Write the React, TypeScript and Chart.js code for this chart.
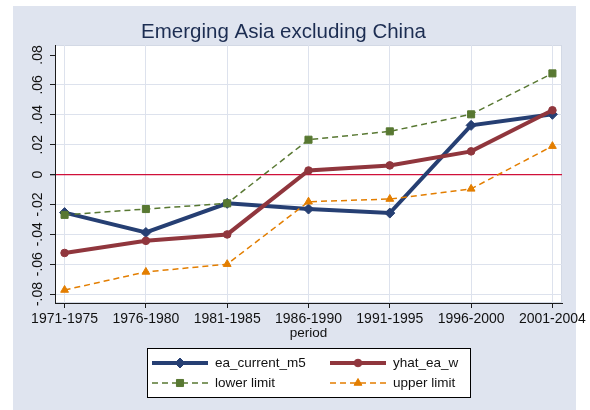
import React, { useEffect, useRef } from "react";
import { Chart, registerables } from "chart.js";
import { drawPoint } from "chart.js/helpers";

Chart.register(...registerables);

const chartTitle = "Emerging Asia excluding China";
const xAxisTitle = "period";
const periods = ["1971-1975", "1976-1980", "1981-1985", "1986-1990", "1991-1995", "1996-2000", "2001-2004"];
const eaCurrent = [-0.0255, -0.0388, -0.0193, -0.0231, -0.0258, 0.0329, 0.0403];
const yhatEa = [-0.0525, -0.0444, -0.0401, 0.0027, 0.0061, 0.0155, 0.043];
const lowerLimit = [-0.027, -0.0231, -0.0193, 0.0233, 0.0289, 0.0403, 0.0677];
const upperLimit = [-0.0773, -0.0652, -0.06, -0.0182, -0.0164, -0.0096, 0.019];
const seriesLabels = ["ea_current_m5", "yhat_ea_w", "lower limit", "upper limit"];
const yTicks = [-0.08, -0.06, -0.04, -0.02, 0, 0.02, 0.04, 0.06, 0.08];

const FONT = "'Liberation Sans', Arial, Helvetica, sans-serif";
const GRAPH_BG = "#dfe4ef";
const GRID = "#dde2ed";
const AXIS = "#1c1c1c";
const TEXT = "#111111";
const NAVY = "#263f73";
const MAROON = "#90363d";
const GREEN = "#587832";
const ORANGE = "#e37e00";
const ZERO = "#d0103a";

const fmtY = (v: number) => {
  if (Math.abs(v) < 1e-9) return "0";
  return v.toFixed(2).replace(/^(-?)0\./, "$1.");
};

const toPoints = (arr: number[]) => arr.map((y, i) => ({ x: i, y }));

const decorPlugin = {
  id: "decor",
  beforeDraw(chart: any) {
    const { ctx, chartArea: a } = chart;
    ctx.save();
    ctx.fillStyle = "#ffffff";
    ctx.fillRect(0, 0, chart.width, chart.height);
    ctx.fillStyle = GRAPH_BG;
    ctx.fillRect(13, 6, 563, 404);
    ctx.fillStyle = "#ffffff";
    ctx.fillRect(a.left, a.top, a.right - a.left, a.bottom - a.top);
    ctx.strokeStyle = "#d3d9e5";
    ctx.lineWidth = 1;
    ctx.strokeRect(a.left + 0.5, a.top + 0.5, a.right - a.left - 1, a.bottom - a.top - 1);
    ctx.restore();
  },
  afterDraw(chart: any) {
    const { ctx } = chart;
    ctx.save();
    // title
    ctx.fillStyle = "#1c2d52";
    ctx.font = `20.5px ${FONT}`;
    ctx.textAlign = "center";
    ctx.textBaseline = "alphabetic";
    ctx.fillText(chartTitle, 283.5, 38);

    // legend
    const bx = 147, by = 348, bw = 323, bh = 49;
    ctx.fillStyle = "#ffffff";
    ctx.fillRect(bx, by, bw, bh);
    ctx.strokeStyle = "#000000";
    ctx.lineWidth = 1;
    ctx.strokeRect(bx + 0.5, by + 0.5, bw, bh);
    chart.data.datasets.forEach((ds: any, i: number) => {
      const col = i % 2;
      const row = Math.floor(i / 2);
      const x0 = 152 + col * 178;
      const x1 = x0 + 56;
      const y = 363 + row * 20;
      ctx.save();
      ctx.strokeStyle = ds.borderColor;
      ctx.lineWidth = ds.borderWidth;
      ctx.setLineDash(ds.borderDash || []);
      ctx.beginPath();
      ctx.moveTo(x0, y);
      ctx.lineTo(x1, y);
      ctx.stroke();
      ctx.setLineDash([]);
      ctx.fillStyle = ds.pointBackgroundColor;
      ctx.strokeStyle = ds.pointBorderColor;
      ctx.lineWidth = ds.pointBorderWidth;
      drawPoint(ctx, { pointStyle: ds.pointStyle, radius: ds.pointRadius, rotation: 0, borderWidth: ds.pointBorderWidth } as any, (x0 + x1) / 2, y);
      ctx.restore();
      ctx.fillStyle = TEXT;
      ctx.font = `13.5px ${FONT}`;
      ctx.textAlign = "left";
      ctx.textBaseline = "middle";
      ctx.fillText(ds.label, x1 + 7, y);
    });
    ctx.restore();
  },
};

export default function App() {
  const ref = useRef<HTMLCanvasElement | null>(null);

  useEffect(() => {
    if (!ref.current) return;
    Chart.defaults.font.family = FONT;
    const mk = (label: string, data: number[], color: string, width: number, dash: number[], style: string, r: number) => ({
      label,
      data: toPoints(data),
      borderColor: color,
      backgroundColor: color,
      borderWidth: width,
      borderDash: dash,
      pointStyle: style,
      pointRadius: r,
      pointBackgroundColor: color,
      pointBorderColor: color,
      pointBorderWidth: 1,
      pointHoverRadius: r,
      tension: 0,
      fill: false,
      clip: false as any,
    });
    const chart = new Chart(ref.current, {
      type: "line",
      data: {
        datasets: [
          { ...mk(seriesLabels[0], eaCurrent, NAVY, 4, [], "rectRot", 5), order: 4 },
          { ...mk(seriesLabels[1], yhatEa, MAROON, 4, [], "circle", 3.8), order: 3 },
          { ...mk(seriesLabels[2], lowerLimit, GREEN, 1.5, [6, 4], "rect", 5), order: 2 },
          { ...mk(seriesLabels[3], upperLimit, ORANGE, 1.5, [6, 4], "triangle", 4.5), order: 1 },
        ] as any,
      },
      options: {
        responsive: false,
        animation: false,
        devicePixelRatio: 1,
        events: [],
        layout: { padding: { top: 45, right: 28, left: 0, bottom: 69 } },
        plugins: {
          legend: { display: false },
          tooltip: { enabled: false },
          title: { display: false },
        },
        scales: {
          x: {
            type: "linear",
            min: -0.118,
            max: 6.118,
            afterBuildTicks: (s: any) => {
              s.ticks = periods.map((_, i) => ({ value: i }));
            },
            afterFit: (s: any) => {
              s.height = 38;
            },
            ticks: {
              callback: (v: any) => periods[Math.round(Number(v))] ?? "",
              font: { size: 14, family: FONT },
              color: TEXT,
              padding: 3,
              maxRotation: 0,
              minRotation: 0,
              autoSkip: false,
            },
            grid: { color: GRID, lineWidth: 1, tickColor: AXIS, tickLength: 5, drawTicks: true },
            border: { color: AXIS, width: 1 },
            title: { display: true, text: xAxisTitle, font: { size: 13.5, family: FONT }, color: TEXT, padding: 0 },
          },
          y: {
            type: "linear",
            min: -0.086,
            max: 0.0867,
            afterBuildTicks: (s: any) => {
              s.ticks = yTicks.map((v) => ({ value: v }));
            },
            afterFit: (s: any) => {
              s.width = 55;
            },
            ticks: {
              callback: (v: any) => fmtY(Number(v)),
              font: { size: 14, family: FONT },
              color: TEXT,
              padding: 0,
              minRotation: 90,
              maxRotation: 90,
              crossAlign: "center",
              autoSkip: false,
            },
            grid: {
              color: (c: any) => {
                const v = c.tick ? c.tick.value : NaN;
                if (Math.abs(v) < 1e-9) return ZERO;
                if (Math.abs(v - 0.08) < 1e-9) return "rgba(0,0,0,0)";
                return GRID;
              },
              lineWidth: (c: any) => (c.tick && Math.abs(c.tick.value) < 1e-9 ? 1.3 : 1),
              tickColor: AXIS,
              tickLength: 5,
              drawTicks: true,
            },
            border: { color: AXIS, width: 1 },
          },
        },
      } as any,
      plugins: [decorPlugin],
    });
    return () => chart.destroy();
  }, []);

  return (
    <div style={{ position: "absolute", left: 0, top: 0, width: 590, height: 410 }}>
      <canvas ref={ref} width={590} height={410} style={{ display: "block", width: 590, height: 410 }} />
    </div>
  );
}
